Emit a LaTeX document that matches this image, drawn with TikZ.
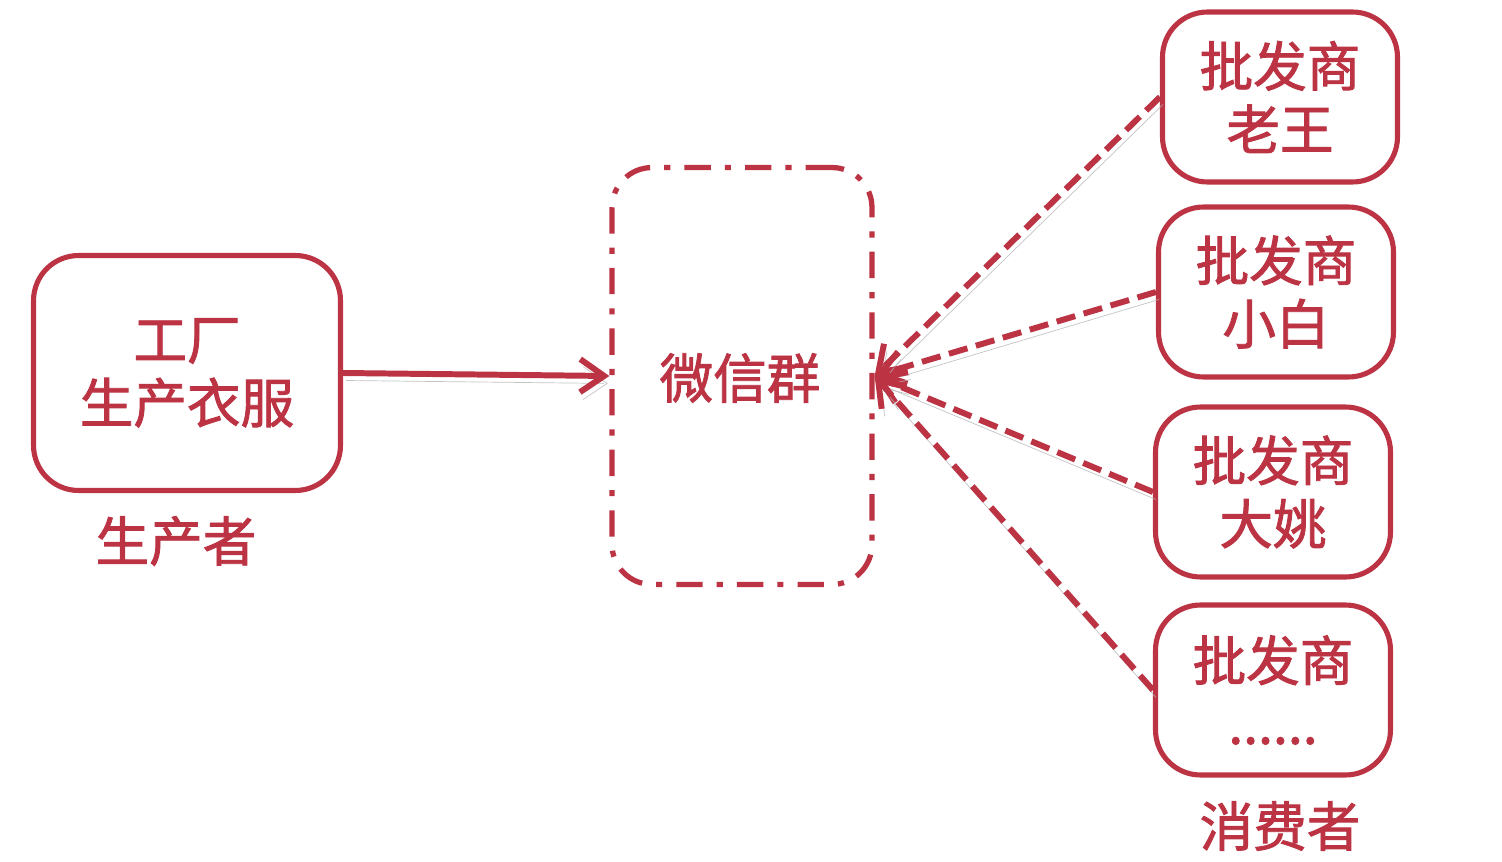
\documentclass[tikz,border=0pt]{standalone}
\usepackage{fontspec}
\setmainfont{Noto Sans CJK SC}[RawFeature={embolden=1.6}]
\usetikzlibrary{arrows.meta, positioning}
\definecolor{brick}{HTML}{BC3444}
\definecolor{smoke}{HTML}{B5B5B5}
\tikzset{
  font=\fontsize{30.5}{36}\selectfont,
  >={Straight Barb[length=4.8mm, width=6.6mm]},
  %
  card/.style={
    draw=brick, line width=2.9pt, fill=white, rounded corners=0.9cm,
    align=center, text=brick, minimum width=4.7cm, minimum height=3.4cm,
    inner sep=0pt,
  },
  hub/.style={
    draw=brick, line width=3pt, rounded corners=0.8cm,
    dash pattern=on 15pt off 8pt on 3.5pt off 8pt,
    minimum width=5.2cm, minimum height=8.34cm, inner sep=0pt,
  },
  tagtext/.style={text=brick, inner sep=0pt},
  %
  shadowed/.style={preaction={draw=smoke, opacity=0.8,
    transform canvas={shift={(0.06cm,-0.15cm)}}}},
  push/.style={draw=brick, line width=3.4pt, ->, shadowed},
  pull/.style={push, dash pattern=on 11pt off 5pt},
}

\begin{document}
\begin{tikzpicture}[x=0.02cm, y=-0.02cm]

  \useasboundingbox (0,0) rectangle (1502,862);

  % maker side
  \node[card, minimum width=6.14cm, minimum height=4.7cm] (factory)
    at (187,373) {工厂\\生产衣服};
  \node[tagtext] (maker) at (176,541) {生产者};

  % the group in the middle
  \node[hub] (chat) at (742,376) {};
  \node[tagtext] (chatname) at (740,378) {微信群};

  % buyers
  \node[card] (buyerA) at (1280,97)  {批发商\\老王};
  \node[card] (buyerB) at (1276,292) {批发商\\小白};
  \node[card] (buyerC) at (1273,492) {批发商\\大姚};
  \node[card] (buyerD) at (1273,690) {批发商\\......};
  \node[tagtext] (buyers) at (1280,826) {消费者};

  \draw[push] (factory.east) -- (chat.west);

  \foreach \b in {buyerA, buyerB, buyerC, buyerD}
    \draw[pull] (\b.west) -- (chat.east);

\end{tikzpicture}
\end{document}
